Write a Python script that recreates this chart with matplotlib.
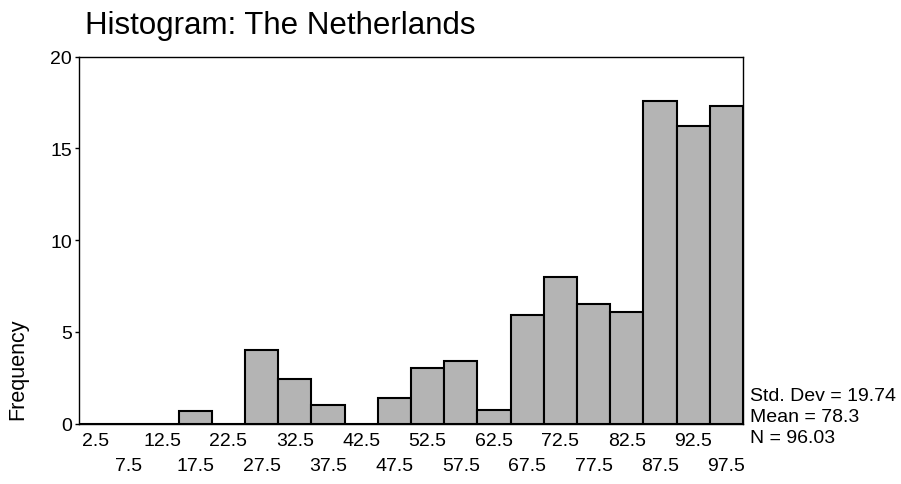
import numpy as np
import matplotlib
matplotlib.use("Agg")
import matplotlib.pyplot as plt

plt.rcParams['font.family'] = ['Liberation Sans', 'DejaVu Sans']

# bin centres and counts
centers = [2.5, 7.5, 12.5, 17.5, 22.5, 27.5, 32.5, 37.5, 42.5, 47.5,
           52.5, 57.5, 62.5, 67.5, 72.5, 77.5, 82.5, 87.5, 92.5, 97.5]
freq = [0, 0, 0, 0.7, 0, 4.0, 2.4, 1.0, 0, 1.4,
        3.0, 3.4, 0.75, 5.9, 8.0, 6.5, 6.1, 17.6, 16.2, 17.3]
stats = ["Std. Dev = 19.74", "Mean = 78.3", "N = 96.03"]
title = "Histogram: The Netherlands"

fig = plt.figure(figsize=(9.01, 4.85), dpi=100)
ax = fig.add_axes([0.0877, 0.1247, 0.737, 0.7567])

ax.bar(centers, freq, width=5, color='#b4b4b4', edgecolor='black', linewidth=1.5)

ax.set_xlim(0, 100)
ax.set_ylim(0, 20)
ax.set_yticks([0, 5, 10, 15, 20])
ax.tick_params(axis='y', length=3, width=1, pad=2, labelsize=14)

# staggered x labels: even ones on the first row, odd ones below
even = centers[0::2]
odd = centers[1::2]
ax.set_xticks(even, [f"{c:g}" for c in even])
ax.set_xticks(odd, [f"{c:g}" for c in odd], minor=True)
ax.tick_params(axis='x', which='major', length=0, pad=6, labelsize=14)
ax.tick_params(axis='x', which='minor', length=0, pad=24, labelsize=14)

for s in ax.spines.values():
    s.set_linewidth(1.0)
    s.set_color('black')

fig.text(85 / 901, 1 - 26 / 485, title, fontsize=22.5, ha='left', va='center')
fig.text(18 / 901, 1 - 369 / 485, "Frequency", fontsize=15.5, rotation=90,
         ha='center', va='center')

for i, line in enumerate(stats):
    fig.text(750 / 901, 1 - (397 + 21 * i) / 485, line, fontsize=14,
             ha='left', va='center')

fig.savefig("out.png", dpi=100)
